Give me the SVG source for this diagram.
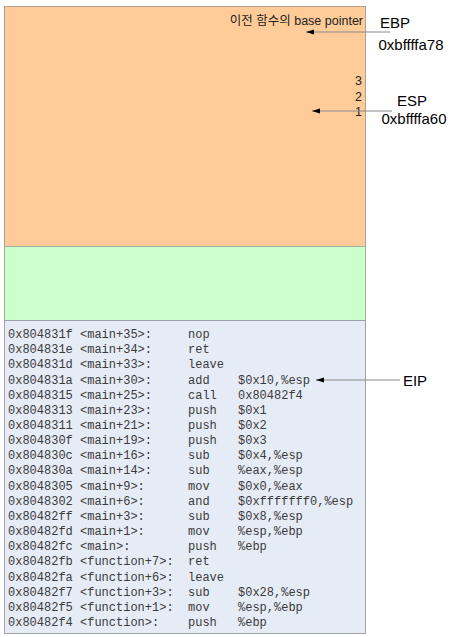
<svg xmlns="http://www.w3.org/2000/svg" width="450" height="637" viewBox="0 0 450 637">
<defs>
<marker id="ah" markerWidth="8" markerHeight="6" refX="8" refY="3" orient="auto" markerUnits="userSpaceOnUse">
<path d="M8,3 L0,0.5 L0,5.5 Z" fill="#000"/>
</marker>
<style>
.lbl{font-family:"Liberation Sans",Arial,sans-serif;font-size:15px;fill:#000}
.small{font-family:"Liberation Sans","Noto Sans CJK KR",sans-serif;font-size:12.5px;fill:#222}
.code{font-family:"Liberation Mono","Courier New",monospace;font-size:12px;fill:#3a3a3a}
.conn{stroke:#888;stroke-width:1;fill:none}
</style>
</defs>
<rect width="450" height="637" fill="#fff"/>
<g id="stack-frame">
<rect x="4.5" y="6.5" width="361" height="240" fill="#FFCC99" stroke="#B0A090"/>
<text class="small" x="363" y="25" text-anchor="end">이전 함수의 base pointer</text>
<text class="small" x="362" y="85" text-anchor="end">3</text>
<text class="small" x="362" y="101" text-anchor="end">2</text>
<text class="small" x="362" y="116" text-anchor="end">1</text>
</g>
<g id="green-area">
<rect x="4.5" y="246.5" width="361" height="74" fill="#CCFFCC" stroke="#A0B0A0"/>
</g>
<g id="code-area">
<rect x="4.5" y="320.5" width="361" height="313" fill="#E6ECF6" stroke="#A0A0A8"/>
<g class="code">
<text y="338"><tspan x="8">0x804831f</tspan><tspan x="80">&lt;main+35&gt;:</tspan><tspan x="188">nop</tspan></text>
<text y="353"><tspan x="8">0x804831e</tspan><tspan x="80">&lt;main+34&gt;:</tspan><tspan x="188">ret</tspan></text>
<text y="368"><tspan x="8">0x804831d</tspan><tspan x="80">&lt;main+33&gt;:</tspan><tspan x="188">leave</tspan></text>
<text y="384"><tspan x="8">0x804831a</tspan><tspan x="80">&lt;main+30&gt;:</tspan><tspan x="188">add</tspan><tspan x="238">$0x10,%esp</tspan></text>
<text y="399"><tspan x="8">0x8048315</tspan><tspan x="80">&lt;main+25&gt;:</tspan><tspan x="188">call</tspan><tspan x="238">0x80482f4</tspan></text>
<text y="414"><tspan x="8">0x8048313</tspan><tspan x="80">&lt;main+23&gt;:</tspan><tspan x="188">push</tspan><tspan x="238">$0x1</tspan></text>
<text y="429"><tspan x="8">0x8048311</tspan><tspan x="80">&lt;main+21&gt;:</tspan><tspan x="188">push</tspan><tspan x="238">$0x2</tspan></text>
<text y="444"><tspan x="8">0x804830f</tspan><tspan x="80">&lt;main+19&gt;:</tspan><tspan x="188">push</tspan><tspan x="238">$0x3</tspan></text>
<text y="459"><tspan x="8">0x804830c</tspan><tspan x="80">&lt;main+16&gt;:</tspan><tspan x="188">sub</tspan><tspan x="238">$0x4,%esp</tspan></text>
<text y="474"><tspan x="8">0x804830a</tspan><tspan x="80">&lt;main+14&gt;:</tspan><tspan x="188">sub</tspan><tspan x="238">%eax,%esp</tspan></text>
<text y="490"><tspan x="8">0x8048305</tspan><tspan x="80">&lt;main+9&gt;:</tspan><tspan x="188">mov</tspan><tspan x="238">$0x0,%eax</tspan></text>
<text y="505"><tspan x="8">0x8048302</tspan><tspan x="80">&lt;main+6&gt;:</tspan><tspan x="188">and</tspan><tspan x="238">$0xfffffff0,%esp</tspan></text>
<text y="520"><tspan x="8">0x80482ff</tspan><tspan x="80">&lt;main+3&gt;:</tspan><tspan x="188">sub</tspan><tspan x="238">$0x8,%esp</tspan></text>
<text y="535"><tspan x="8">0x80482fd</tspan><tspan x="80">&lt;main+1&gt;:</tspan><tspan x="188">mov</tspan><tspan x="238">%esp,%ebp</tspan></text>
<text y="550"><tspan x="8">0x80482fc</tspan><tspan x="80">&lt;main&gt;:</tspan><tspan x="188">push</tspan><tspan x="238">%ebp</tspan></text>
<text y="565"><tspan x="8">0x80482fb</tspan><tspan x="80">&lt;function+7&gt;:</tspan><tspan x="188">ret</tspan></text>
<text y="581"><tspan x="8">0x80482fa</tspan><tspan x="80">&lt;function+6&gt;:</tspan><tspan x="188">leave</tspan></text>
<text y="596"><tspan x="8">0x80482f7</tspan><tspan x="80">&lt;function+3&gt;:</tspan><tspan x="188">sub</tspan><tspan x="238">$0x28,%esp</tspan></text>
<text y="611"><tspan x="8">0x80482f5</tspan><tspan x="80">&lt;function+1&gt;:</tspan><tspan x="188">mov</tspan><tspan x="238">%esp,%ebp</tspan></text>
<text y="626"><tspan x="8">0x80482f4</tspan><tspan x="80">&lt;function&gt;:</tspan><tspan x="188">push</tspan><tspan x="238">%ebp</tspan></text>
</g>
</g>
<g id="ebp-label">
<text class="lbl" x="395" y="28" text-anchor="middle">EBP</text>
<text class="lbl" x="411" y="50" text-anchor="middle">0xbffffa78</text>
</g>
<g id="esp-label">
<text class="lbl" x="412" y="106" text-anchor="middle">ESP</text>
<text class="lbl" x="414" y="124" text-anchor="middle">0xbffffa60</text>
</g>
<g id="eip-label">
<text class="lbl" x="415" y="386" text-anchor="middle">EIP</text>
</g>
<g id="connectors">
<line class="conn" x1="390" y1="32" x2="306" y2="32" marker-end="url(#ah)"/>
<line class="conn" x1="392" y1="111" x2="312" y2="111" marker-end="url(#ah)"/>
<line class="conn" x1="400" y1="380" x2="316" y2="380" marker-end="url(#ah)"/>
</g>
</svg>
